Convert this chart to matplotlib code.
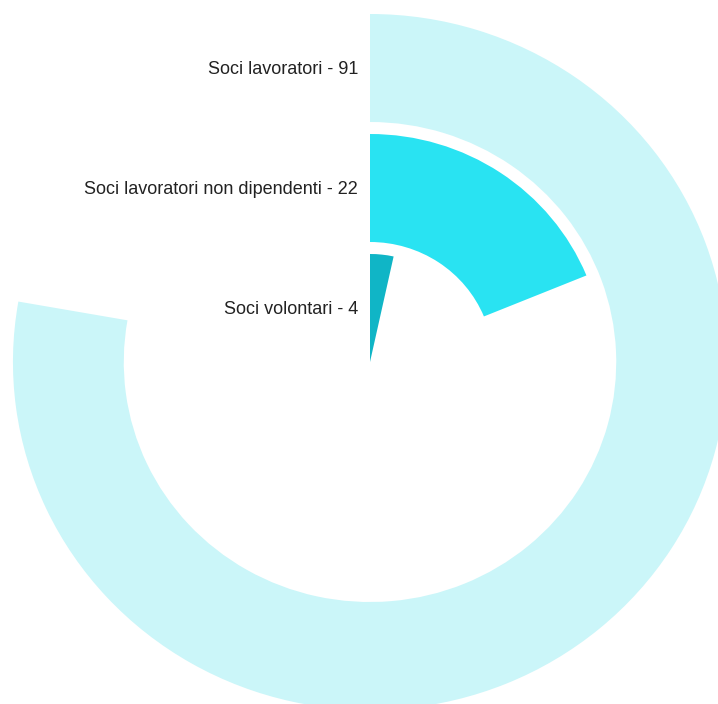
import matplotlib
matplotlib.use("Agg")
import matplotlib.pyplot as plt
from matplotlib.patches import Wedge

categories = ["Soci lavoratori", "Soci lavoratori non dipendenti", "Soci volontari"]
values = [91, 22, 4]
colors = ["#cbf6f9", "#29e3f2", "#10b5c6"]

total = sum(values)

W, H = 718, 704
fig = plt.figure(figsize=(W / 100, H / 100), dpi=100)
ax = fig.add_axes([0, 0, 1, 1])
ax.set_axis_off()

sx = 1.026          # horizontal stretch of the original
cx, cy = 370, 362   # center in pixels
ax.set_xlim(-cx / sx, (W - cx) / sx)
ax.set_ylim(-(H - cy), cy)

outer_r = 348
band = 108
step = 120

for i, (cat, val, col) in enumerate(zip(categories, values, colors)):
    r = outer_r - i * step
    sweep = val / total * 360.0
    w = Wedge((0, 0), r, 90 - sweep, 90, width=band, facecolor=col,
              edgecolor="none", antialiased=True)
    ax.add_patch(w)
    ax.text(-12 / sx, r - band / 2 - 2, f"{cat} - {val}", ha="right", va="center",
            fontsize=13, color="#222222", family=["Liberation Sans", "DejaVu Sans"])

fig.savefig("out.png", dpi=100, facecolor="white")
